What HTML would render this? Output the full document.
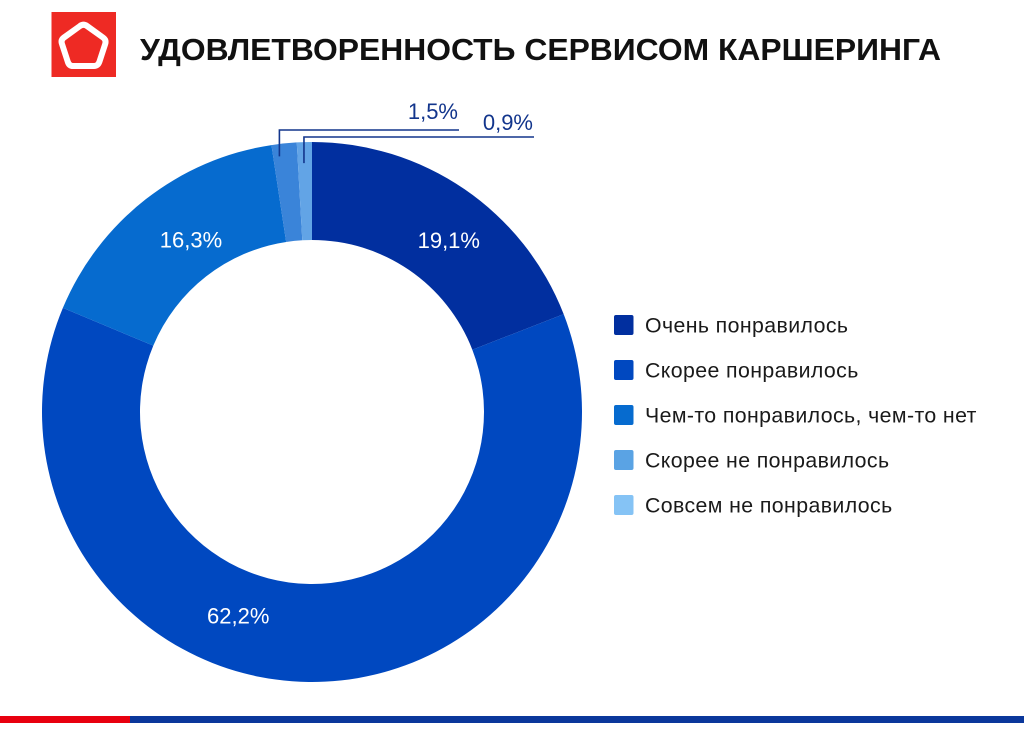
<!DOCTYPE html>
<html lang="ru">
<head>
<meta charset="utf-8">
<title>Удовлетворенность сервисом каршеринга</title>
<style>
html,body{margin:0;padding:0;background:#fff;width:1024px;height:742px;overflow:hidden}
svg{display:block;font-family:"Liberation Sans",sans-serif}
</style>
</head>
<body>
<svg id="chart" xmlns="http://www.w3.org/2000/svg" width="1024" height="742" viewBox="0 0 1024 742">
  <g>
    <rect x="51.5" y="12" width="64.5" height="65" fill="#ee2a24"/>
    <path d="M80 26 Q83.5 23.5 87 26 L103 37.5 Q106.5 40 105.2 44 L99.5 61.5 Q98 66 94 66 L73 66 Q69 66 67.7 61.5 L62 44 Q60.5 40 64 37.5 Z" fill="none" stroke="#fff" stroke-width="6" stroke-linejoin="round"/>
  </g>
  <text x="140" y="60" font-size="30.5" font-weight="bold" fill="#111" textLength="801" lengthAdjust="spacingAndGlyphs">УДОВЛЕТВОРЕННОСТЬ СЕРВИСОМ КАРШЕРИНГА</text>
  <g id="slices"></g>
  <g id="labels"></g>
  <g id="legend"></g>
  <rect x="0" y="716" width="130" height="7" fill="#e8000f"/>
  <rect x="130" y="716" width="894" height="7" fill="#0a379b"/>
</svg>
<script>
const categories = ['Очень понравилось', 'Скорее понравилось', 'Чем-то понравилось, чем-то нет', 'Скорее не понравилось', 'Совсем не понравилось'];
const seriesValues = [19.1, 62.2, 16.3, 1.5, 0.9];
const valueLabels = ['19,1%', '62,2%', '16,3%', '1,5%', '0,9%'];

const sliceColors = ['#012f9f', '#0048c0', '#066bcf', '#3a84d9', '#62a4e6'];
const legendColors = ['#012f9f', '#0048c0', '#066bcf', '#5aa3e4', '#85c3f5'];
const CX = 312, CY = 412, R_OUT = 270, R_IN = 172, R_LABEL = 221;
const SVG_NS = 'http://www.w3.org/2000/svg';

function angleOf(share) {
  return share / 100 * 2 * Math.PI;
}
function polar(radius, angle) {
  return [CX + radius * Math.sin(angle), CY - radius * Math.cos(angle)];
}
function make(tag, attrs, parent) {
  const el = document.createElementNS(SVG_NS, tag);
  for (const k in attrs) el.setAttribute(k, attrs[k]);
  parent.appendChild(el);
  return el;
}
function arcPath(a0, a1) {
  const p0 = polar(R_OUT, a0), p1 = polar(R_OUT, a1), p2 = polar(R_IN, a1), p3 = polar(R_IN, a0);
  const large = a1 - a0 > Math.PI ? 1 : 0;
  return 'M' + p0 + ' A' + R_OUT + ' ' + R_OUT + ' 0 ' + large + ' 1 ' + p1 +
         ' L' + p2 + ' A' + R_IN + ' ' + R_IN + ' 0 ' + large + ' 0 ' + p3 + ' Z';
}

const slicesG = document.getElementById('slices');
const labelsG = document.getElementById('labels');
const legendG = document.getElementById('legend');
const total = seriesValues.reduce((a, b) => a + b, 0);

/* Inside labels are hand-placed relative to their slice midpoint, as in the source artwork. */
const insideNudge = [[12, 11], [-71, -17], [15, 2]];
/* Outside labels: elbow height and right end of the leader, leader tip radius and x shift. */
const leaderStyle = { 3: { y: 130, end: 459, tip: 257, shift: -6, textY: 119 },
                      4: { y: 137, end: 534, tip: 249, shift: -1, textY: 130 } };

let running = 0;
seriesValues.forEach(function (value, i) {
  const a0 = angleOf(running / total * 100);
  running += value;
  const a1 = angleOf(running / total * 100);
  const mid = (a0 + a1) / 2;

  const slice = make('path', { d: arcPath(a0, a1), fill: sliceColors[i] }, slicesG);
  
  

  if (insideNudge[i]) {
    const p = polar(R_LABEL, mid);
    const t = make('text', { x: p[0] + insideNudge[i][0], y: p[1] + insideNudge[i][1] + 7.5, 'text-anchor': 'middle', 'font-size': 22, fill: '#fff' }, labelsG);
    t.textContent = valueLabels[i];
    
    
  } else {
    const s = leaderStyle[i];
    const tip = polar(s.tip, mid);
    const x = tip[0] + s.shift;
    const line = make('path', { d: 'M' + x + ' ' + tip[1] + ' L' + x + ' ' + s.y + ' L' + s.end + ' ' + s.y, fill: 'none', stroke: '#12358c', 'stroke-width': 1.6 }, labelsG);
    
    
    const t = make('text', { x: s.end - 1, y: s.textY, 'text-anchor': 'end', 'font-size': 22, fill: '#12358c' }, labelsG);
    t.textContent = valueLabels[i];
    
    
  }
});

categories.forEach(function (name, i) {
  const y = 315 + i * 45;
  const entry = make('g', {}, legendG);
  
  
  const swatch = make('rect', { x: 614, y: y, width: 19.5, height: 20, rx: 2, fill: legendColors[i] }, entry);
  
  
  const t = make('text', { x: 645, y: y + 17.5, 'font-size': 21.3, 'letter-spacing': 0.4, fill: '#1a1a1a' }, entry);
  t.textContent = name;
  
  
});
</script>
</body>
</html>
